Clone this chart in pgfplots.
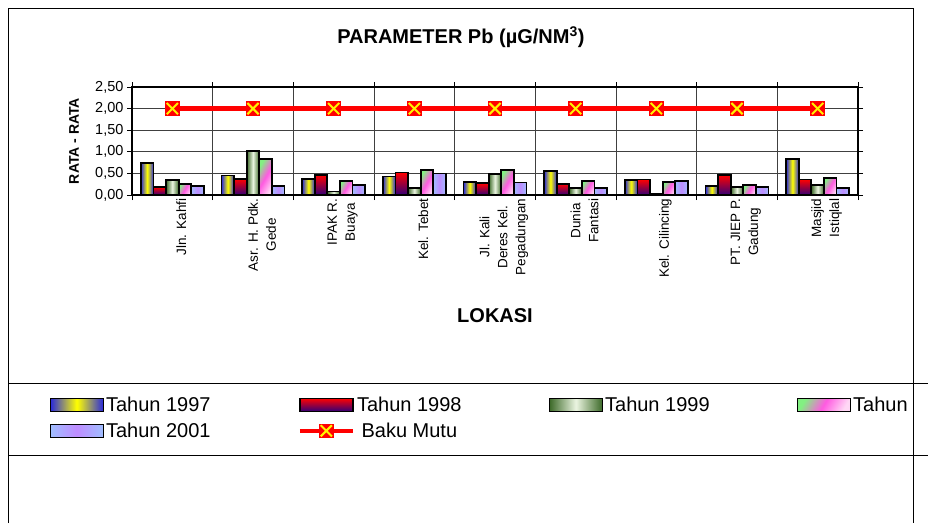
\documentclass[border=0pt]{standalone}
\usepackage{pgfplots}
\pgfplotsset{compat=1.18}
\usepackage{fontspec}
\setmainfont{Liberation Sans}

\definecolor{y97a}{RGB}{40,40,220}
\definecolor{y97b}{RGB}{255,255,0}
\definecolor{y98a}{RGB}{255,0,0}
\definecolor{y98b}{RGB}{50,0,120}
\definecolor{y99a}{RGB}{60,105,40}
\definecolor{y99b}{RGB}{235,245,225}
\definecolor{y00a}{RGB}{130,240,130}
\definecolor{y00b}{RGB}{255,90,225}
\definecolor{y00c}{RGB}{255,215,245}
\definecolor{y01a}{RGB}{160,190,255}
\definecolor{y01b}{RGB}{190,140,255}

\pgfdeclareplotmark{bakux}{%
  \pgfpathrectangle{\pgfpoint{-7.3pt}{-7.3pt}}{\pgfpoint{14.6pt}{14.6pt}}%
  \pgfsetfillcolor{red}\pgfusepath{fill}%
  \pgfsetstrokecolor{yellow}\pgfsetlinewidth{2pt}%
  \pgfpathmoveto{\pgfpoint{-5.6pt}{-5.6pt}}\pgfpathlineto{\pgfpoint{5.6pt}{5.6pt}}%
  \pgfpathmoveto{\pgfpoint{-5.6pt}{5.6pt}}\pgfpathlineto{\pgfpoint{5.6pt}{-5.6pt}}%
  \pgfusepath{stroke}}

\pgfplotsset{
  barkey/.style={legend image code/.code={\draw[##1,line width=1.5pt,draw=black] (0pt,-6.5pt) rectangle (53pt,6.5pt);}},
  barbase/.style={ybar, draw=black, line width=1.8pt, forget plot},
  c97/.style={left color=y97a, right color=y97a, middle color=y97b},
  c98/.style={top color=y98a, bottom color=y98b},
  c99/.style={left color=y99a, right color=y99a, middle color=y99b},
  c00/.style={left color=y00a, right color=y00c, middle color=y00b, shading angle=60},
  c01/.style={left color=y01a, right color=y01a, middle color=y01b},
  s97/.style={barbase, c97, bar shift=-25.2pt},
  s98/.style={barbase, c98, bar shift=-12.6pt},
  s99/.style={barbase, c99, bar shift=0pt},
  s00/.style={barbase, c00, bar shift=12.6pt},
  s01/.style={barbase, c01, bar shift=25.2pt},
}

\begin{document}
\begin{tikzpicture}
\path[use as bounding box] (0,0) rectangle (928pt,523pt);
\begin{scope}
\clip (0,0) rectangle (913pt,523pt);
\begin{axis}[
  at={(132pt,328pt)}, anchor=south west,
  scale only axis, width=726pt, height=108pt,
  xmin=-0.5, xmax=8.5, ymin=0, ymax=2.5,
  ytick={0,0.5,...,2.5},
  yticklabel style={/pgf/number format/.cd, fixed, fixed zerofill, precision=2, use comma},
  /pgf/number format/assume math mode=true,
  ticklabel style={font=\fontsize{14.5}{16}\selectfont},
  xtick={-0.5,0.5,...,8.5}, xticklabels={},
  ymajorgrids, xmajorgrids,
  grid style={black!75, line width=0.8pt},
  tick align=outside, major tick length=5pt,
  tick style={black, line width=0.8pt},
  axis line style={line width=1.8pt},
  extra x ticks={0,1,2,3,4,5,6,7,8},
  extra x tick labels={{Jln. Kahfi},{Asr. H. Pdk.\\Gede},{IPAK R.\\Buaya},{Kel. Tebet},{Jl. Kali\\Deres Kel.\\Pegadungan},{Dunia\\Fantasi},{Kel. Cilincing},{PT. JIEP P.\\Gadung},{Masjid\\Istiqlal}},
  extra x tick style={grid=none, major tick length=0pt,
    tick label style={rotate=90, anchor=east, align=center, yshift=-9pt,
      font=\fontsize{13.5}{18}\selectfont}},
  title={PARAMETER Pb (µG/NM\textsuperscript{3})},
  title style={at={(axis description cs:0.453,1)}, yshift=44pt, anchor=center, font=\bfseries\fontsize{20}{24}\selectfont},
  ylabel={RATA - RATA},
  every axis y label/.style={at={(axis description cs:0,0.5)}, xshift=-58pt, rotate=90, anchor=center, font=\bfseries\fontsize{14}{16}\selectfont},
  xlabel={LOKASI},
  every axis x label/.style={at={(axis description cs:0.5,0)}, yshift=-121pt, anchor=center, font=\bfseries\fontsize{20}{24}\selectfont},
  bar width=12.6pt,
  legend columns=4,
  legend style={at={(axis description cs:-0.118,-1.83)}, anchor=north west, draw=none, fill=none,
    font=\fontsize{20}{22}\selectfont, row sep=6pt,
    /tikz/every even column/.append style={column sep=85pt}},
]
% Tahun 1997
\addplot[s97] coordinates {(0,0.75)};
\addplot[s97] coordinates {(1,0.45)};
\addplot[s97] coordinates {(2,0.37)};
\addplot[s97] coordinates {(3,0.43)};
\addplot[s97] coordinates {(4,0.30)};
\addplot[s97] coordinates {(5,0.55)};
\addplot[s97] coordinates {(6,0.35)};
\addplot[s97] coordinates {(7,0.20)};
\addplot[s97] coordinates {(8,0.83)};
% Tahun 1998
\addplot[s98] coordinates {(0,0.18)};
\addplot[s98] coordinates {(1,0.37)};
\addplot[s98] coordinates {(2,0.46)};
\addplot[s98] coordinates {(3,0.52)};
\addplot[s98] coordinates {(4,0.27)};
\addplot[s98] coordinates {(5,0.26)};
\addplot[s98] coordinates {(6,0.36)};
\addplot[s98] coordinates {(7,0.46)};
\addplot[s98] coordinates {(8,0.36)};
% Tahun 1999
\addplot[s99] coordinates {(0,0.34)};
\addplot[s99] coordinates {(1,1.01)};
\addplot[s99] coordinates {(2,0.08)};
\addplot[s99] coordinates {(3,0.17)};
\addplot[s99] coordinates {(4,0.49)};
\addplot[s99] coordinates {(5,0.16)};
\addplot[s99] coordinates {(6,0.02)};
\addplot[s99] coordinates {(7,0.18)};
\addplot[s99] coordinates {(8,0.24)};
% Tahun 2000
\addplot[s00] coordinates {(0,0.26)};
\addplot[s00] coordinates {(1,0.83)};
\addplot[s00] coordinates {(2,0.33)};
\addplot[s00] coordinates {(3,0.57)};
\addplot[s00] coordinates {(4,0.57)};
\addplot[s00] coordinates {(5,0.33)};
\addplot[s00] coordinates {(6,0.30)};
\addplot[s00] coordinates {(7,0.23)};
\addplot[s00] coordinates {(8,0.40)};
% Tahun 2001
\addplot[s01] coordinates {(0,0.21)};
\addplot[s01] coordinates {(1,0.21)};
\addplot[s01] coordinates {(2,0.23)};
\addplot[s01] coordinates {(3,0.50)};
\addplot[s01] coordinates {(4,0.29)};
\addplot[s01] coordinates {(5,0.16)};
\addplot[s01] coordinates {(6,0.32)};
\addplot[s01] coordinates {(7,0.18)};
\addplot[s01] coordinates {(8,0.16)};
% legend
\addlegendimage{barkey, c97}\addlegendentry{Tahun 1997}
\addlegendimage{barkey, c98}\addlegendentry{Tahun 1998}
\addlegendimage{barkey, c99}\addlegendentry{Tahun 1999}
\addlegendimage{barkey, c00}\addlegendentry{Tahun 2000}
\addlegendimage{barkey, c01}\addlegendentry{Tahun 2001}
% Baku Mutu
\addplot[sharp plot, red, line width=4.5pt, mark=bakux,
  legend image code/.code={\draw[red, line width=4.5pt] (0pt,0pt) -- (53pt,0pt); \pgftransformshift{\pgfpoint{26.5pt}{0pt}}\pgfuseplotmark{bakux}}]
  coordinates {(0,2) (1,2) (2,2) (3,2) (4,2) (5,2) (6,2) (7,2) (8,2)};
\addlegendentry{Baku Mutu}
\end{axis}
\end{scope}
\draw[line width=0.9pt] (8pt,0pt) -- (8pt,515pt) -- (913pt,515pt) -- (913pt,0pt);
\draw[line width=0.9pt] (8pt,140pt) -- (928pt,140pt);
\draw[line width=0.9pt] (8pt,68pt) -- (928pt,68pt);
\end{tikzpicture}
\end{document}
